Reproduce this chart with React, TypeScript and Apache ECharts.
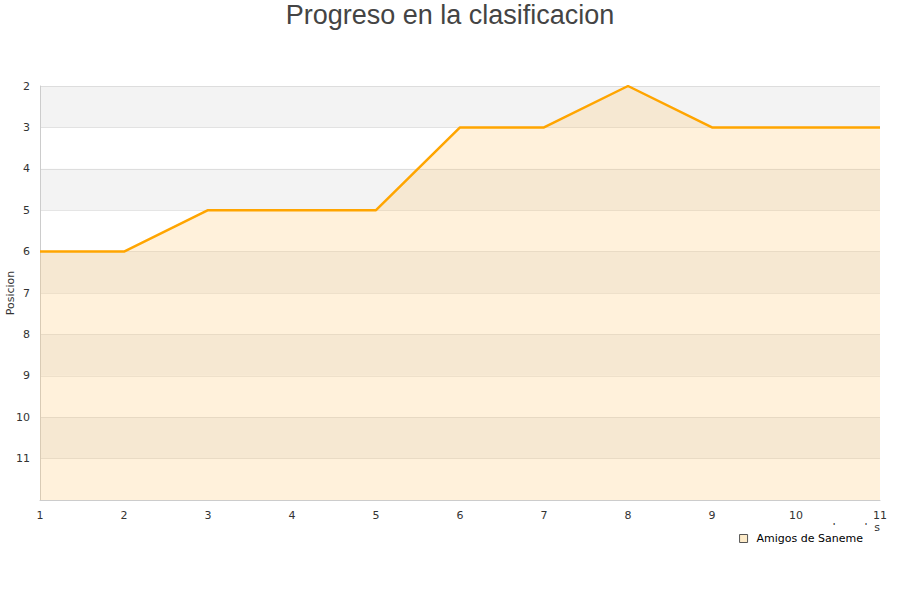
import React, { useEffect, useRef } from "react";
import * as echarts from "echarts";

const jornadas = ["1", "2", "3", "4", "5", "6", "7", "8", "9", "10", "11"];
const posiciones = [6, 6, 5, 5, 5, 3, 3, 2, 3, 3, 3];
const seriesName = "Amigos de Saneme";
const titleText = "Progreso en la clasificacion";

export default function App() {
  const ref = useRef<HTMLDivElement>(null);
  useEffect(() => {
    if (!ref.current) return;
    const chart = echarts.init(ref.current, null, { renderer: "svg" });
    chart.setOption({
      animation: false,
      backgroundColor: "#ffffff",
      title: {
        text: titleText,
        left: "center",
        top: 0,
        padding: [1, 0, 0, 0],
        textStyle: { fontFamily: "Liberation Sans", fontSize: 27, fontWeight: "normal", color: "#444444" },
      },
      grid: { left: 40, right: 20, top: 86, bottom: 100, containLabel: false, outerBoundsMode: "none" },
      legend: {
        data: [{ name: seriesName, icon: "path://M0,0H8V8H0Z" }],
        symbolKeepAspect: true,
        right: 26,
        top: 525,
        z: 10,
        backgroundColor: "#ffffff",
        padding: [8, 11, 6, 6],
        itemWidth: 16,
        itemHeight: 8,
        itemGap: 5,
        textStyle: { fontFamily: "DejaVu Sans", fontSize: 11, color: "#000000" },
        itemStyle: { color: "#fdebc9", borderColor: "#555", borderWidth: 1 },
      },
      xAxis: {
        type: "category",
        data: jornadas,
        boundaryGap: false,
        name: "Jornadas",
        nameLocation: "end",
        nameGap: 0,
        nameMoveOverlap: false,
        nameTextStyle: {
          align: "right",
          verticalAlign: "top",
          padding: [22, 0, 0, 0],
          fontFamily: "DejaVu Sans",
          fontSize: 11,
          color: "#333",
        },
        axisLine: { lineStyle: { color: "#cccccc" } },
        axisTick: { show: false },
        axisLabel: { fontFamily: "DejaVu Sans", fontSize: 11, color: "#333", margin: 10 },
        splitLine: { show: false },
      },
      yAxis: {
        type: "value",
        inverse: true,
        min: 2,
        max: 12,
        interval: 1,
        name: "Posicion",
        nameLocation: "middle",
        nameGap: 24,
        nameMoveOverlap: false,
        nameTextStyle: { fontFamily: "DejaVu Sans", fontSize: 11, color: "#333" },
        axisLine: { show: true, lineStyle: { color: "#cccccc" } },
        axisTick: { show: false },
        axisLabel: {
          fontFamily: "DejaVu Sans",
          fontSize: 11,
          color: "#333",
          margin: 10,
          formatter: (v: number) => (v === 12 ? "" : String(v)),
        },
        splitLine: { show: true, lineStyle: { color: "rgba(0,0,0,0.09)" } },
        splitArea: { show: true, areaStyle: { color: ["#f3f3f3", "rgba(255,255,255,0)"] } },
      },
      series: [
        {
          name: seriesName,
          type: "line",
          data: posiciones,
          showSymbol: false,
          symbol: "none",
          lineStyle: { color: "#ffa500", width: 2.5 },
          itemStyle: { color: "#fdebc9", borderColor: "#555" },
          areaStyle: { origin: "end", color: "rgba(255,200,110,0.36)" },
        },
      ],
    });
    return () => chart.dispose();
  }, []);
  return <div ref={ref} style={{ width: 900, height: 600, position: "absolute", left: 0, top: 0 }} />;
}
